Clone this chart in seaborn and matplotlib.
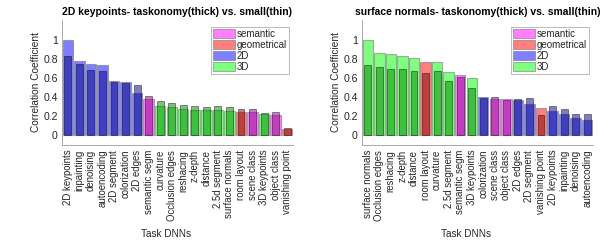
import matplotlib
matplotlib.use("Agg")
import matplotlib.pyplot as plt
from matplotlib.patches import Patch
import seaborn as sns
import pandas as pd

# ---- data ----
left_tasks = ["2D keypoints", "inpainting", "denoising", "autoencoding", "2D segment",
              "colorization", "2D edges", "semantic segm", "curvature", "Occlusion edges",
              "reshacing", "z-depth", "distance", "2.5d segment", "surface normals",
              "room layout", "scene class", "3D keypoints", "object class", "vanishing point"]
left_thick = [1.00, 0.78, 0.75, 0.74, 0.57, 0.56, 0.45, 0.38, 0.31, 0.30,
              0.28, 0.27, 0.27, 0.27, 0.26, 0.25, 0.25, 0.23, 0.21, 0.07]
left_thin = [0.83, 0.75, 0.69, 0.68, 0.565, 0.55, 0.53, 0.41, 0.36, 0.34,
             0.32, 0.305, 0.30, 0.31, 0.30, 0.28, 0.28, 0.24, 0.25, 0.08]

right_tasks = ["surface normals", "Occlusion edges", "reshacing", "z-depth", "distance",
               "room layout", "curvature", "2.5d segment", "semantic segm", "3D keypoints",
               "colorization", "scene class", "object class", "2D edges", "2D segment",
               "vanishing point", "2D keypoints", "inpainting", "denoising", "autoencoding"]
right_thick = [1.00, 0.86, 0.85, 0.83, 0.81, 0.775, 0.775, 0.67, 0.63, 0.60,
               0.40, 0.385, 0.38, 0.37, 0.33, 0.285, 0.255, 0.23, 0.18, 0.16]
right_thin = [0.74, 0.72, 0.70, 0.70, 0.68, 0.65, 0.68, 0.57, 0.615, 0.495,
              0.39, 0.40, 0.375, 0.385, 0.39, 0.21, 0.305, 0.28, 0.23, 0.22]

titles = ["2D keypoints- taskonomy(thick) vs. small(thin)",
          "surface normals- taskonomy(thick) vs. small(thin)"]

group_names = ["semantic", "geometrical", "2D", "3D"]
semantic_tasks = ["semantic segm", "scene class", "object class"]
geometrical_tasks = ["room layout", "vanishing point"]
tasks_2d = ["2D keypoints", "inpainting", "denoising", "autoencoding", "2D segment",
            "colorization", "2D edges"]
tasks_3d = ["curvature", "Occlusion edges", "reshacing", "z-depth", "distance",
            "2.5d segment", "surface normals", "3D keypoints"]

# ---- styles ----
base_rgb = {"semantic": (1, 0, 1), "geometrical": (1, 0, 0), "2D": (0, 0, 1), "3D": (0, 1, 0)}
dark_rgb = {"semantic": (0.5, 0, 0.5), "geometrical": (0.5, 0, 0), "2D": (0, 0, 0.5), "3D": (0, 0.5, 0)}


def group_of(t):
    if t in semantic_tasks:
        return "semantic"
    if t in geometrical_tasks:
        return "geometrical"
    if t in tasks_2d:
        return "2D"
    return "3D"


sns.set_style("white")
plt.rcParams["font.family"] = ["Liberation Sans", "DejaVu Sans"]
plt.rcParams["font.size"] = 7

fig = plt.figure(figsize=(6.13, 2.41), dpi=100)
W, H = 613, 241
axes = [fig.add_axes([62 / W, (H - 145) / H, 231 / W, 125 / H]),
        fig.add_axes([362 / W, (H - 145) / H, 231 / W, 125 / H])]

panels = [(left_tasks, left_thick, left_thin), (right_tasks, right_thick, right_thin)]

for ax, (tasks, thick, thin), title in zip(axes, panels, titles):
    df = pd.DataFrame({"task": tasks, "thick": thick, "thin": thin})
    pal_thick = {t: base_rgb[group_of(t)] for t in tasks}
    pal_thin = {t: dark_rgb[group_of(t)] for t in tasks}
    sns.barplot(data=df, x="task", y="thick", hue="task", order=tasks, hue_order=tasks,
                palette=pal_thick, legend=False, width=0.9, saturation=1, errorbar=None,
                alpha=0.5, edgecolor=(0.4, 0.4, 0.4), linewidth=0.8, ax=ax)
    sns.barplot(data=df, x="task", y="thin", hue="task", order=tasks, hue_order=tasks,
                palette=pal_thin, legend=False, width=0.6, saturation=1, errorbar=None,
                alpha=0.5, edgecolor=(0, 0, 0), linewidth=0.6, ax=ax)
    ax.set_xlim(-0.5, len(tasks) - 0.5)
    ax.set_ylim(-0.1, 1.21)
    ax.set_yticks([0, 0.2, 0.4, 0.6, 0.8, 1.0])
    ax.set_yticklabels(["0", "0.2", "0.4", "0.6", "0.8", "1"])
    ax.tick_params(axis="x", rotation=90, labelsize=6.9, length=2, width=0.5,
                   colors="#8c8c8c", labelcolor="#262626", pad=1.5, direction="out")
    ax.tick_params(axis="y", labelsize=7.6, length=0, labelcolor="#262626", pad=3)
    for lab in ax.get_xticklabels():
        lab.set_verticalalignment("top")
    for s in ["top", "right"]:
        ax.spines[s].set_visible(False)
    for s in ["left", "bottom"]:
        ax.spines[s].set_color("#9a9a9a")
        ax.spines[s].set_linewidth(0.6)
    ax.set_xlabel("Task DNNs", fontsize=7.2, color="#262626")
    ax.xaxis.set_label_coords(0.45, -0.67)
    ax.set_ylabel("Correlation Coefficient", fontsize=7.3, color="#262626", labelpad=2)
    ax.set_title(title, fontsize=7.5, fontweight="bold", pad=3.5, color="black")
    handles = [Patch(facecolor=base_rgb[g] + (0.5,), edgecolor=(0.4, 0.4, 0.4, 0.6),
                     linewidth=0.6, label=g) for g in group_names]
    leg = ax.legend(handles=handles, loc="upper right", bbox_to_anchor=(0.983, 0.944),
                    borderaxespad=0, fontsize=7, frameon=True, fancybox=False,
                    handlelength=2.3, handleheight=1.05, handletextpad=0.2,
                    labelspacing=0.1, borderpad=0.2)
    leg.get_frame().set_edgecolor("#9a9a9a")
    leg.get_frame().set_linewidth(0.6)

fig.savefig("out.png", dpi=100)
